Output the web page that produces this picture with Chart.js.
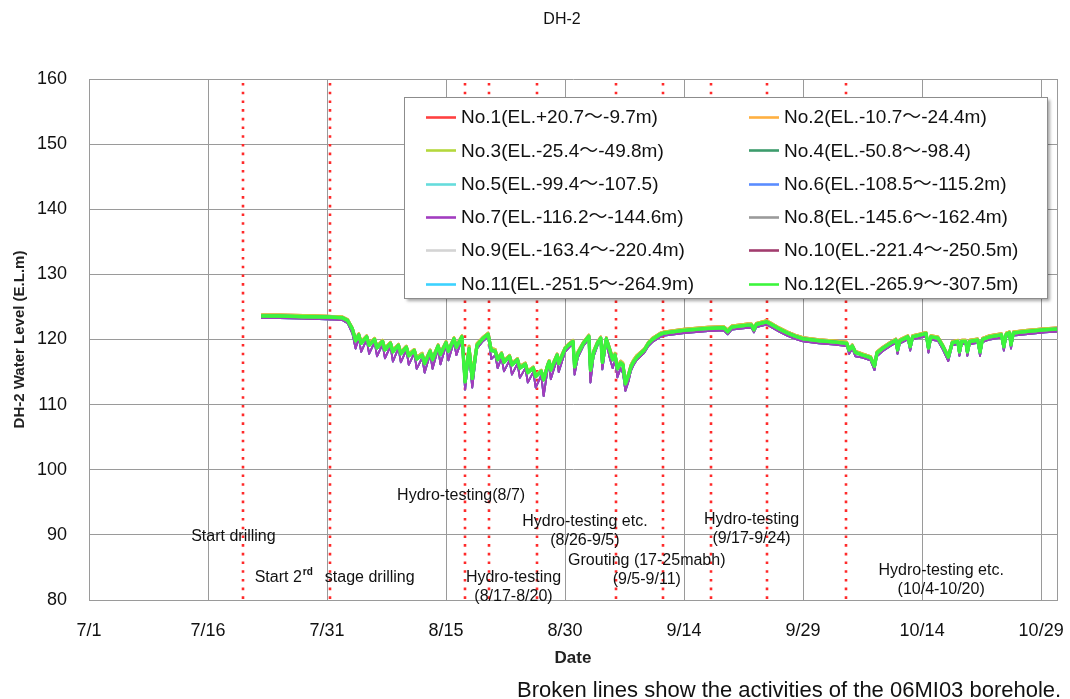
<!DOCTYPE html>
<html>
<head>
<meta charset="utf-8">
<title>DH-2</title>
<script src="https://cdn.jsdelivr.net/npm/chart.js@4.4.1/dist/chart.umd.min.js"></script>
<style>
  html, body { margin: 0; padding: 0; background: #fff; }
  #wrap { width: 1070px; height: 699px; position: relative; }
</style>
</head>
<body>
<div id="wrap"><canvas id="chart" width="1070" height="699"></canvas></div>
<script>
// Axis labels: one tick every 15 days, counted from 7/1 (day 0)
const dateTicks = ['7/1', '7/16', '7/31', '8/15', '8/30', '9/14', '9/29', '10/14', '10/29'];

// Sample times (days since 7/1) of the water level records
const days = [
  21.7, 24.0, 27.0, 30.0, 31.9, 32.6, 33.2, 33.6, 34.0, 34.3,
  35.0, 35.3, 36.0, 36.3, 37.0, 37.3, 38.0, 38.3, 39.0, 39.3,
  40.0, 40.3, 41.0, 41.3, 42.0, 42.3, 43.0, 43.3, 44.0, 44.3,
  45.0, 45.3, 46.0, 46.3, 47.0, 47.4, 47.9, 48.3, 48.9, 49.6,
  50.3, 50.7, 51.2, 51.5, 52.0, 52.3, 53.0, 53.3, 54.0, 54.3,
  55.0, 55.3, 56.0, 56.3, 57.0, 57.3, 57.8, 58.0, 58.2, 59.0,
  59.2, 60.0, 60.5, 61.0, 61.2, 61.6, 62.3, 63.0, 63.2, 63.6,
  64.1, 64.5, 64.7, 65.2, 65.6, 66.0, 66.3, 66.6, 67.0, 67.3,
  67.6, 68.0, 68.3, 68.6, 69.0, 70.0, 70.5, 71.0, 72.0, 72.5,
  75.0, 78.0, 80.0, 80.5, 81.0, 83.0, 83.5, 83.8, 84.1, 85.4,
  86.0, 87.0, 88.0, 89.0, 90.0, 92.0, 94.0, 95.5, 95.8, 96.2,
  96.6, 97.5, 98.5, 99.0, 99.3, 100.0, 101.0, 101.7, 101.9, 102.2,
  103.2, 103.5, 103.8, 104.8, 105.5, 105.8, 106.1, 107.0, 107.6, 108.3,
  108.8, 109.5, 109.7, 110.0, 110.5, 110.7, 111.0, 112.0, 112.3, 112.6,
  113.5, 115.0, 115.3, 115.6, 116.0, 116.2, 116.5, 118.0, 120.5, 122.0
];

// Upper sections (No.1 - No.3), E.L. m
const levelsUpper = [
  123.8, 123.8, 123.7, 123.6, 123.5, 123.1, 121.8, 120.1, 120.9, 119.7,
  120.6, 119.4, 120.2, 119.0, 119.9, 118.7, 119.6, 118.4, 119.3, 118.1,
  119.0, 117.8, 118.5, 117.3, 117.9, 116.6, 118.4, 117.2, 119.2, 118.0,
  119.7, 118.5, 120.3, 119.1, 120.6, 114.3, 119.0, 114.8, 119.4, 120.3,
  121.0, 118.6, 118.5, 117.2, 118.0, 116.8, 117.6, 116.4, 117.1, 115.9,
  116.4, 115.2, 115.8, 114.6, 115.3, 114.1, 116.2, 116.8, 115.6, 117.8,
  116.6, 118.8, 119.4, 119.9, 116.2, 118.1, 119.6, 120.7, 115.7, 118.3,
  119.7, 120.4, 116.9, 120.3, 118.8, 117.2, 117.9, 115.8, 116.7, 116.4,
  113.5, 114.8, 116.1, 116.8, 117.5, 118.6, 119.6, 120.2, 121.0, 121.2,
  121.6, 121.9, 122.0, 121.5, 122.1, 122.4, 122.4, 121.7, 122.5, 122.9,
  122.5, 121.8, 121.2, 120.7, 120.3, 120.0, 119.8, 119.6, 118.6, 119.2,
  118.2, 117.8, 117.4, 116.2, 118.1, 118.8, 119.6, 120.1, 118.6, 120.0,
  120.6, 119.1, 120.6, 120.9, 121.1, 118.9, 120.6, 120.4, 119.2, 117.5,
  119.7, 119.9, 118.3, 119.9, 119.9, 118.3, 119.9, 120.1, 118.3, 120.2,
  120.6, 120.9, 119.1, 121.0, 121.2, 119.4, 121.2, 121.4, 121.7, 121.8
];

// Middle sections (No.4, No.8, No.9, No.12), E.L. m
const levelsMid = [
  123.6, 123.6, 123.5, 123.45, 123.35, 122.9, 121.6, 119.8, 120.7, 119.4,
  120.4, 119.1, 120.0, 118.7, 119.7, 118.4, 119.4, 118.1, 119.1, 117.8,
  118.8, 117.5, 118.3, 117.0, 117.6, 116.3, 118.2, 116.9, 119.0, 117.7,
  119.5, 118.2, 120.1, 118.8, 120.4, 113.5, 118.6, 114.0, 119.1, 120.1,
  120.8, 118.3, 118.2, 116.9, 117.8, 116.5, 117.4, 116.1, 116.9, 115.6,
  116.2, 114.9, 115.6, 114.3, 115.1, 113.8, 116.0, 116.6, 115.3, 117.6,
  116.3, 118.6, 119.2, 119.7, 115.8, 117.8, 119.4, 120.5, 115.3, 118.0,
  119.5, 120.2, 116.5, 120.1, 118.5, 116.9, 117.6, 115.5, 116.4, 116.1,
  113.2, 114.5, 115.8, 116.5, 117.2, 118.4, 119.4, 120.0, 120.8, 121.0,
  121.4, 121.7, 121.8, 121.2, 121.9, 122.2, 122.2, 121.5, 122.3, 122.7,
  122.3, 121.6, 121.0, 120.5, 120.1, 119.8, 119.6, 119.4, 118.4, 119.0,
  118.0, 117.6, 117.2, 115.9, 117.9, 118.6, 119.4, 119.9, 118.4, 119.8,
  120.4, 118.9, 120.4, 120.7, 120.9, 118.7, 120.4, 120.2, 119.0, 117.3,
  119.5, 119.7, 118.1, 119.7, 119.7, 118.1, 119.7, 119.9, 118.1, 120.0,
  120.4, 120.7, 118.9, 120.8, 121.0, 119.2, 121.0, 121.2, 121.5, 121.6
];

// Deep sections (No.5 - No.7, No.10, No.11), E.L. m
const levelsDeep = [
  123.3, 123.3, 123.2, 123.1, 123.0, 122.5, 120.9, 118.6, 120.3, 118.1,
  120.0, 117.8, 119.6, 117.4, 119.3, 117.1, 119.0, 116.6, 118.7, 116.5,
  118.4, 116.1, 117.9, 115.5, 117.2, 114.9, 117.8, 115.5, 118.6, 116.2,
  119.1, 116.8, 119.7, 117.6, 120.0, 112.3, 117.8, 112.6, 118.6, 119.7,
  120.4, 117.0, 117.6, 115.6, 117.2, 115.1, 116.8, 114.6, 116.3, 114.1,
  115.6, 113.4, 115.0, 112.6, 114.5, 111.3, 115.4, 116.1, 113.9, 117.1,
  115.0, 118.1, 118.8, 119.3, 114.6, 117.2, 119.0, 120.1, 113.4, 117.4,
  119.1, 119.8, 115.4, 119.6, 117.3, 115.6, 116.8, 114.2, 115.6, 114.8,
  112.1, 113.6, 115.2, 116.0, 116.8, 118.0, 119.0, 119.6, 120.4, 120.6,
  121.0, 121.3, 121.4, 120.8, 121.5, 121.8, 121.8, 121.1, 121.9, 122.3,
  121.9, 121.2, 120.6, 120.1, 119.7, 119.4, 119.2, 119.0, 117.8, 118.6,
  117.4, 117.2, 116.8, 115.3, 117.4, 118.2, 119.0, 119.5, 117.8, 119.4,
  120.0, 118.3, 120.0, 120.3, 120.5, 118.0, 120.0, 119.8, 118.5, 116.7,
  119.1, 119.3, 117.5, 119.3, 119.3, 117.5, 119.3, 119.5, 117.5, 119.6,
  120.0, 120.3, 118.3, 120.4, 120.6, 118.6, 120.6, 120.8, 121.1, 121.2
];

const sectionNames = [
  'No.1(EL.+20.7～-9.7m)',    'No.2(EL.-10.7～-24.4m)',
  'No.3(EL.-25.4～-49.8m)',   'No.4(EL.-50.8～-98.4)',
  'No.5(EL.-99.4～-107.5)',   'No.6(EL.-108.5～-115.2m)',
  'No.7(EL.-116.2～-144.6m)', 'No.8(EL.-145.6～-162.4m)',
  'No.9(EL.-163.4～-220.4m)', 'No.10(EL.-221.4～-250.5m)',
  'No.11(EL.-251.5～-264.9m)', 'No.12(EL.-265.9～-307.5m)'
];
const sectionColors = [
  '#ff4040', '#ffb040', '#b4d83c', '#3c9c6c',
  '#66dcdc', '#5a8cff', '#a23cc0', '#9a9a9a',
  '#d4d4d4', '#a23c6e', '#3cd2ff', '#3cf53c'
];
const sectionLevels = [
  levelsUpper, levelsUpper, levelsUpper, levelsMid,
  levelsDeep, levelsDeep, levelsDeep, levelsMid,
  levelsMid, levelsDeep, levelsDeep, levelsMid
];
// stacking of the traces: 1 is drawn on top
const drawOrder = [5, 4, 3, 2, 9, 8, 6, 2, 2, 7, 10, 1];
// trace widths in px
const traceWidths = [2.6, 2.6, 2.6, 3, 1.8, 1.8, 1.8, 3, 3, 1.8, 1.8, 3.4];

// 06MI03 borehole activities (days since 7/1), drawn as red broken lines
const activityDays = [19.4, 30.4, 47.4, 50.4, 56.4, 66.4, 72.4, 78.4, 85.4, 95.4];

// Activity notes, anchored at (day, level) of their first line
const activityNotes = [
  { lines: ['Start drilling'], day: 18.2, level: 89.8 },
  { lines: ['Hydro-testing(8/7)'], day: 46.9, level: 96.1 },
  { lines: ['Hydro-testing etc.', '(8/26-9/5)'], day: 62.5, level: 92.0 },
  { lines: ['Hydro-testing', '(9/17-9/24)'], day: 83.5, level: 92.3 },
  { lines: ['Grouting (17-25mabh)', '(9/5-9/11)'], day: 70.3, level: 86.1 },
  { lines: ['Hydro-testing', '(8/17-8/20)'], day: 53.5, level: 83.4 },
  { lines: ['Hydro-testing etc.', '(10/4-10/20)'], day: 107.4, level: 84.5 }
];
const secondStageNote = { parts: ['Start 2', 'rd', 'stage drilling'], day: 30.9, level: 83.4 };

const chartTitle = 'DH-2';
const footNote = 'Broken lines show the activities of the 06MI03 borehole.';

const FONT = "'Liberation Sans', Arial, 'Noto Sans CJK JP', sans-serif";

const datasets = sectionNames.map((name, i) => ({
  label: name,
  data: days.map((d, k) => ({ x: d, y: sectionLevels[i][k] })),
  borderColor: sectionColors[i],
  backgroundColor: sectionColors[i],
  borderWidth: traceWidths[i],
  borderJoinStyle: 'round',
  pointRadius: 0,
  tension: 0,
  fill: false,
  order: drawOrder[i]
}));

const decorations = {
  id: 'decorations',
  beforeDatasetsDraw(chart) {
    const { ctx, chartArea: a, scales: { x } } = chart;
    ctx.save();
    // right frame of the plot area
    ctx.strokeStyle = '#9a9a9a';
    ctx.lineWidth = 1;
    ctx.beginPath();
    ctx.moveTo(Math.round(a.right) + 0.5, a.top);
    ctx.lineTo(Math.round(a.right) + 0.5, a.bottom);
    ctx.stroke();
    // activity markers
    ctx.strokeStyle = '#ff2a2a';
    ctx.lineWidth = 2.6;
    ctx.setLineDash([2.6, 6.1]);
    activityDays.forEach(d => {
      const px = Math.round(x.getPixelForValue(d));
      ctx.beginPath();
      ctx.moveTo(px, a.top + 4);
      ctx.lineTo(px, a.bottom);
      ctx.stroke();
    });
    ctx.restore();
  },
  afterDatasetsDraw(chart) {
    const { ctx } = chart;
    const box = { left: 404, top: 97, width: 643, height: 201 };
    ctx.save();
    ctx.shadowColor = 'rgba(0,0,0,0.35)';
    ctx.shadowBlur = 3;
    ctx.shadowOffsetX = 3;
    ctx.shadowOffsetY = 3;
    ctx.fillStyle = '#fff';
    ctx.fillRect(box.left, box.top, box.width, box.height);
    ctx.shadowColor = 'transparent';
    ctx.strokeStyle = '#8c8c8c';
    ctx.lineWidth = 1;
    ctx.strokeRect(box.left + 0.5, box.top + 0.5, box.width, box.height);
    ctx.font = '19px ' + FONT;
    ctx.textBaseline = 'middle';
    ctx.textAlign = 'left';
    const colLine = [426, 749];
    chart.data.datasets.forEach((ds, i) => {
      const col = i % 2, row = Math.floor(i / 2);
      const y = 117 + row * 33.3;
      ctx.strokeStyle = ds.borderColor;
      ctx.lineWidth = 2.6;
      ctx.beginPath();
      ctx.moveTo(colLine[col], Math.round(y) + 0.5);
      ctx.lineTo(colLine[col] + 30, Math.round(y) + 0.5);
      ctx.stroke();
      ctx.fillStyle = '#111';
      ctx.fillText(ds.label, colLine[col] + 35, y + 1);
    });
    ctx.restore();
  },
  afterDraw(chart) {
    const { ctx, scales: { x, y } } = chart;
    ctx.save();
    ctx.fillStyle = '#111';
    ctx.textBaseline = 'middle';
    // chart title
    ctx.font = '16px ' + FONT;
    ctx.textAlign = 'center';
    ctx.fillText(chartTitle, 562, 20);
    // activity notes
    ctx.font = '16px ' + FONT;
    activityNotes.forEach(n => {
      const px = x.getPixelForValue(n.day);
      const py = y.getPixelForValue(n.level);
      n.lines.forEach((t, k) => ctx.fillText(t, px, py + k * 19));
    });
    // "Start 2nd stage drilling" with superscript
    {
      const [a, sup, b] = secondStageNote.parts;
      ctx.font = '16px ' + FONT;
      const wa = ctx.measureText(a).width;
      const wb = ctx.measureText(b).width;
      ctx.font = 'bold 10px ' + FONT;
      const ws = ctx.measureText(sup).width;
      const gap = 12;
      const total = wa + ws + gap + wb;
      let px = x.getPixelForValue(secondStageNote.day) - total / 2;
      const py = y.getPixelForValue(secondStageNote.level);
      ctx.textAlign = 'left';
      ctx.font = '16px ' + FONT;
      ctx.fillText(a, px, py);
      px += wa + 1;
      ctx.font = 'bold 10px ' + FONT;
      ctx.fillText(sup, px, py - 6);
      px += ws + gap;
      ctx.font = '16px ' + FONT;
      ctx.fillText(b, px, py);
    }
    // footnote
    ctx.font = '22px ' + FONT;
    ctx.textAlign = 'left';
    ctx.textBaseline = 'alphabetic';
    ctx.fillText(footNote, 517, 697);
    ctx.restore();
  }
};

new Chart(document.getElementById('chart'), {
  type: 'line',
  data: { datasets },
  plugins: [decorations],
  options: {
    responsive: false,
    animation: false,
    events: [],
    layout: { padding: { top: 79, right: 13, left: 0, bottom: 0 } },
    plugins: {
      legend: { display: false },
      title: { display: false },
      tooltip: { enabled: false }
    },
    scales: {
      x: {
        type: 'linear',
        min: 0,
        max: 122,
        afterFit: s => { s.height = 99; s.paddingLeft = 0; s.paddingRight = 0; },
        ticks: {
          stepSize: 15,
          includeBounds: false,
          autoSkip: false,
          maxRotation: 0,
          padding: 20,
          color: '#111',
          font: { family: FONT, size: 18 },
          callback: v => dateTicks[Math.round(v / 15)] ?? ''
        },
        grid: { color: '#9a9a9a', lineWidth: 1, drawTicks: false },
        border: { color: '#9a9a9a' },
        title: {
          display: true,
          text: 'Date',
          color: '#222',
          font: { family: FONT, size: 17, weight: 'bold' },
          padding: { top: 0, bottom: 30 }
        }
      },
      y: {
        min: 80,
        max: 160,
        afterFit: s => { s.width = 89; s.paddingTop = 0; s.paddingBottom = 0; },
        ticks: {
          stepSize: 10,
          padding: 22,
          color: '#111',
          font: { family: FONT, size: 18 }
        },
        grid: { color: '#9a9a9a', lineWidth: 1, drawTicks: false },
        border: { color: '#9a9a9a' },
        title: {
          display: true,
          text: 'DH-2 Water Level (E.L.m)',
          color: '#222',
          font: { family: FONT, size: 15, weight: 'bold' },
          padding: { top: 11, bottom: 0 }
        }
      }
    }
  }
});
</script>
</body>
</html>
